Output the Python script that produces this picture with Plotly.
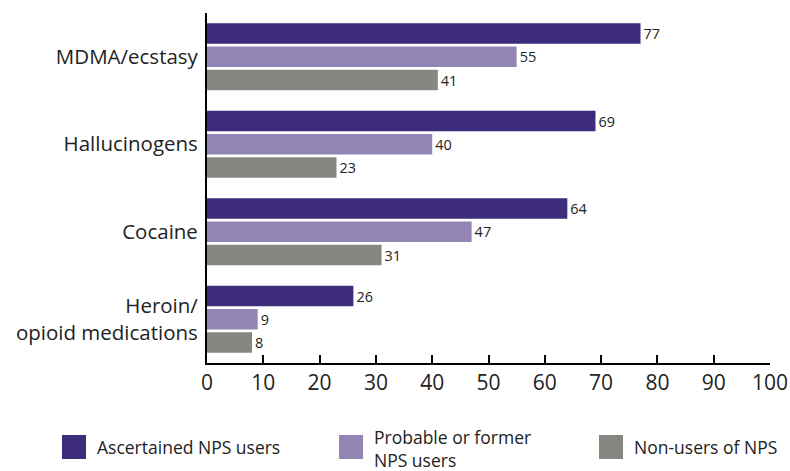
import plotly.graph_objects as go

categories = ["MDMA/ecstasy", "Hallucinogens", "Cocaine", "Heroin/<br>opioid medications"]
series_names = ["Ascertained NPS users", "Probable or former<br>NPS users", "Non-users of NPS"]
ascertained = [77, 69, 64, 26]
probable = [55, 40, 47, 9]
non_users = [41, 23, 31, 8]
colors = ["#3d2b7c", "#9284b5", "#878781"]
x_ticks = [0, 10, 20, 30, 40, 50, 60, 70, 80, 90, 100]

FONT = "Open Sans"
W, H = 790, 471
L, R, T, B = 207, 20, 13, 108

fig = go.Figure()
for name, vals, col in zip(series_names, [ascertained, probable, non_users], colors):
    fig.add_trace(go.Bar(
        y=categories, x=vals, orientation="h", name=name,
        marker=dict(color=col, line=dict(width=0)),
        text=[str(v) for v in vals], textposition="outside",
        textfont=dict(family=FONT, size=15.5, color="#222222"),
        cliponaxis=False, showlegend=False,
    ))

fig.update_layout(
    width=W, height=H,
    margin=dict(l=L, r=R, t=T, b=B, pad=0, autoexpand=False),
    plot_bgcolor="white", paper_bgcolor="white",
    barmode="group", bargap=0.2, bargroupgap=0.12,
    font=dict(family=FONT, size=21, color="#222222"),
    showlegend=False,
)
fig.update_xaxes(
    range=[0, 100], tickvals=x_ticks, ticktext=[str(t) for t in x_ticks],
    showgrid=False, zeroline=False, showline=True, linecolor="black", linewidth=2,
    ticks="inside", ticklen=8, tickwidth=2, tickcolor="black",
    tickfont=dict(family=FONT, size=21, color="#222222"),
    automargin=False,
)
fig.update_yaxes(
    autorange="reversed", showgrid=False, zeroline=False,
    showline=True, linecolor="black", linewidth=2, ticks="",
    tickfont=dict(family=FONT, size=20.5, color="#222222"),
    ticklabelstandoff=3, automargin=False,
)

# custom legend (paper coords derived from pixel layout)
pw, ph = W - L - R, H - T - B
def px_x(p):
    return (p - L) / pw
def px_y(p):
    return (H - B - p) / ph

legend_items = [(62, 96), (339, 373), (599, 633)]
for (bx, tx), name, col in zip(legend_items, series_names, colors):
    two_line = "<br>" in name
    fig.add_shape(type="rect", xref="paper", yref="paper",
                  x0=px_x(bx), x1=px_x(bx + 24), y0=px_y(459), y1=px_y(435),
                  fillcolor=col, line=dict(width=0))
    fig.add_annotation(xref="paper", yref="paper", x=px_x(tx),
                       y=px_y(424) if two_line else px_y(447),
                       text=name, showarrow=False, xanchor="left",
                       yanchor="top" if two_line else "middle",
                       align="left", borderpad=0,
                       font=dict(family=FONT, size=17.5, color="#222222"))

fig.write_html("out.html")
